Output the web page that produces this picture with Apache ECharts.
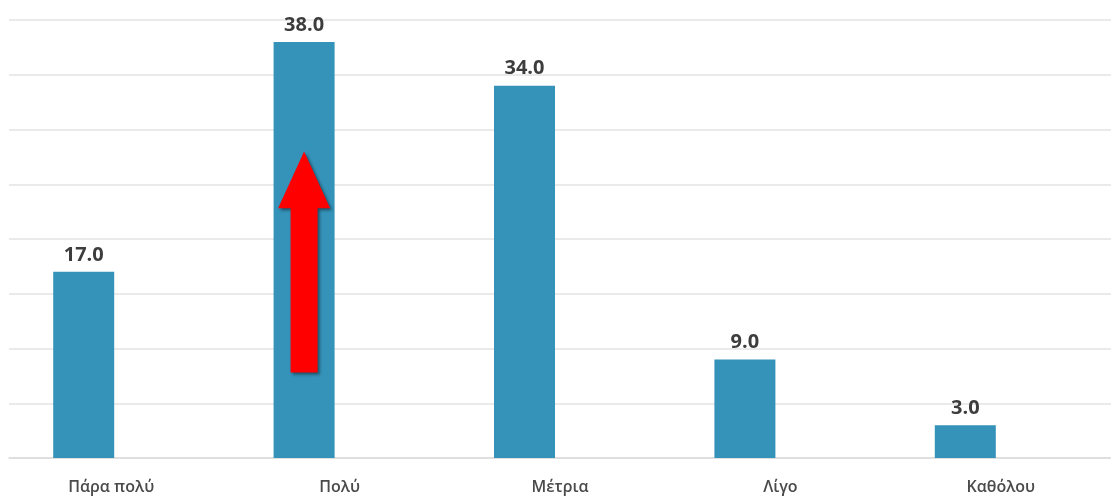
<!DOCTYPE html>
<html>
<head>
<meta charset="utf-8">
<script src="https://cdn.jsdelivr.net/npm/echarts@6/dist/echarts.min.js"></script>
<style>
  html, body { margin: 0; padding: 0; background: #ffffff; }
  #chart { width: 1111px; height: 497px; }
</style>
</head>
<body>
<div id="chart"></div>
<script>
// Survey answers and their percentages
const categories = ['Πάρα πολύ', 'Πολύ', 'Μέτρια', 'Λίγο', 'Καθόλου'];
const values = [17.0, 38.0, 34.0, 9.0, 3.0];
// Arrow annotation on the "Πολύ" bar, in axis values
const arrowCategory = 1;
const arrowTip = 28;
const arrowHeadBase = 22.8;
const arrowTail = 7.8;

const chart = echarts.init(document.getElementById('chart'), null, { renderer: 'canvas' });

const option = {
  animation: false,
  grid: { left: 9, top: 20, width: 1112, height: 438, containLabel: false },
  xAxis: {
    type: 'category',
    data: categories.map((c, i) => i === 0 ? { value: c, textStyle: { padding: [0, 16, 0, 0] } } : c),
    axisLine: { show: true, lineStyle: { color: '#dcdcdc', width: 1.5 } },
    axisTick: { show: false },
    axisLabel: {
      margin: 21,
      color: '#4a4a4a',
      fontFamily: '"Open Sans", "Noto Sans", sans-serif',
      fontWeight: 600,
      fontSize: 16
    }
  },
  yAxis: {
    type: 'value',
    min: 0,
    max: 40,
    interval: 5,
    axisLine: { show: false },
    axisTick: { show: false },
    axisLabel: { show: false },
    splitLine: { lineStyle: { color: '#e3e3e3', width: 1.5 } }
  },
  series: [
    {
      type: 'bar',
      data: values,
      barWidth: 61,
      barGap: 0,
      itemStyle: { color: '#3592b9' },
      label: {
        show: true,
        position: 'top',
        distance: 7,
        formatter: p => p.value.toFixed(1),
        color: '#3d3d3d',
        fontFamily: '"Open Sans", "Noto Sans", sans-serif',
        fontWeight: 'bold',
        fontSize: 20
      }
    },
    {
      // empty companion series that reserves the space to the right of each bar
      type: 'bar',
      data: categories.map(() => null),
      barWidth: 71,
      barGap: 0,
      silent: true
    }
  ]
};

chart.setOption(option);

// Red upward arrow drawn over the second bar
function drawArrow() {
  const center = chart.convertToPixel({ xAxisIndex: 0 }, arrowCategory) - 35.5;
  const yTip = chart.convertToPixel({ yAxisIndex: 0 }, arrowTip);
  const yBase = chart.convertToPixel({ yAxisIndex: 0 }, arrowHeadBase);
  const yTail = chart.convertToPixel({ yAxisIndex: 0 }, arrowTail);
  const headHalf = 26;
  const shaftHalf = 13.5;
  chart.setOption({
    graphic: [{
      type: 'polygon',
      shape: {
        points: [
          [center, yTip],
          [center + headHalf, yBase],
          [center + shaftHalf, yBase],
          [center + shaftHalf, yTail],
          [center - shaftHalf, yTail],
          [center - shaftHalf, yBase],
          [center - headHalf, yBase]
        ]
      },
      style: {
        fill: '#ff0000',
        shadowColor: 'rgba(0,0,0,0.45)',
        shadowBlur: 3,
        shadowOffsetX: 2,
        shadowOffsetY: 2
      },
      z: 10
    }]
  });
}
drawArrow();
</script>
</body>
</html>
